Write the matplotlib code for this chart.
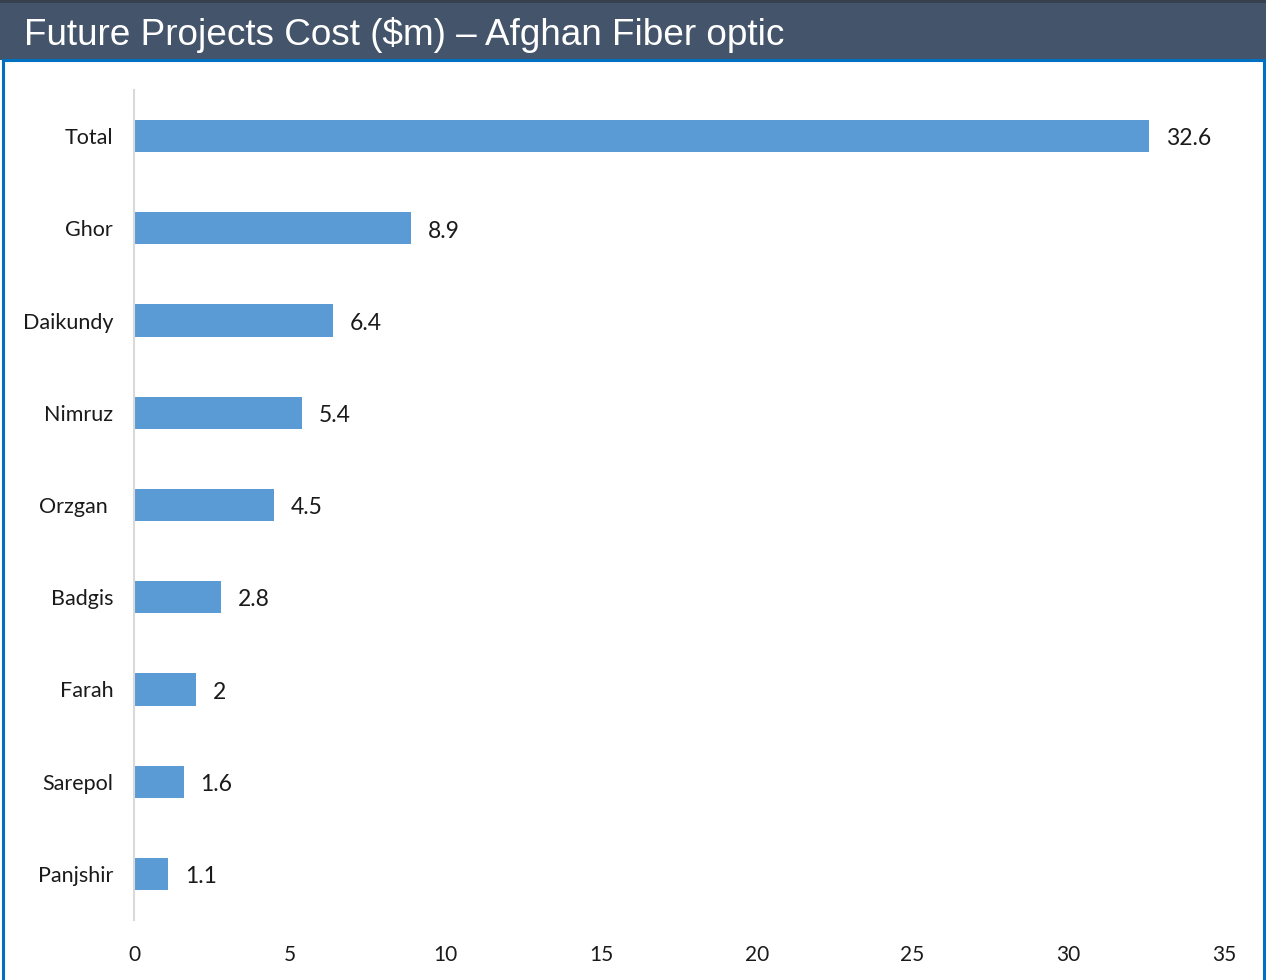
import matplotlib
matplotlib.use("Agg")
import matplotlib.pyplot as plt
from matplotlib.patches import Rectangle

# Cost of future fiber optic projects per province ($m)
provinces = ["Total", "Ghor", "Daikundy", "Nimruz", "Orzgan ", "Badgis", "Farah", "Sarepol", "Panjshir"]
costs = [32.6, 8.9, 6.4, 5.4, 4.5, 2.8, 2, 1.6, 1.1]
value_labels = ["32.6", "8.9", "6.4", "5.4", "4.5", "2.8", "2", "1.6", "1.1"]
x_ticks = [0, 5, 10, 15, 20, 25, 30, 35]
title = "Future Projects Cost ($m) \u2013 Afghan Fiber optic"

W, H = 1266, 980
fig = plt.figure(figsize=(W / 100, H / 100), dpi=100)
fig.patch.set_facecolor("white")

# Header band and framed panel
fig.add_artist(Rectangle((0, (H - 60) / H), 1, 60 / H, transform=fig.transFigure,
                         facecolor="#44546A", edgecolor="none", zorder=0))
fig.add_artist(Rectangle((0, (H - 3) / H), 1, 3 / H, transform=fig.transFigure,
                         facecolor="#36404F", edgecolor="none", zorder=0))
fig.add_artist(Rectangle((2.5 / W, -5 / H), (W - 5) / W, (H - 55) / H, transform=fig.transFigure,
                         facecolor="none", edgecolor="#0070C0", linewidth=2.2, zorder=1))
fig.text(24 / W, (H - 35) / H, title, color="white", fontsize=26.6,
         family="Liberation Sans", va="center", ha="left")

ax = fig.add_axes([134 / W, 60 / H, 1090 / W, 830 / H])
ypos = list(range(len(provinces)))
ax.barh(ypos, costs, height=0.35, color="#5B9BD5", zorder=2)
for y, v, lab in zip(ypos, costs, value_labels):
    ax.annotate(lab, (v, y), xytext=(12, -2), textcoords="offset points",
                va="center", ha="left", fontsize=16.5, family="Lato", color="#1a1a1a")

ax.set_xlim(0, 35)
ax.set_ylim(len(provinces) - 0.5, -0.5)
ax.set_xticks(x_ticks)
ax.set_xticklabels([str(t) for t in x_ticks], fontsize=15, family="Lato", color="#1a1a1a")
ax.set_yticks(ypos)
ax.set_yticklabels(provinces, fontsize=15.5, family="Lato", color="#1a1a1a")
ax.tick_params(axis="both", length=0)
ax.tick_params(axis="x", pad=18)
ax.tick_params(axis="y", pad=15)
for s in ["top", "right", "bottom"]:
    ax.spines[s].set_visible(False)
ax.spines["left"].set_color("#D9D9D9")
ax.spines["left"].set_linewidth(1.5)
ax.set_facecolor("white")

fig.savefig("out.png", dpi=100, facecolor="white")
